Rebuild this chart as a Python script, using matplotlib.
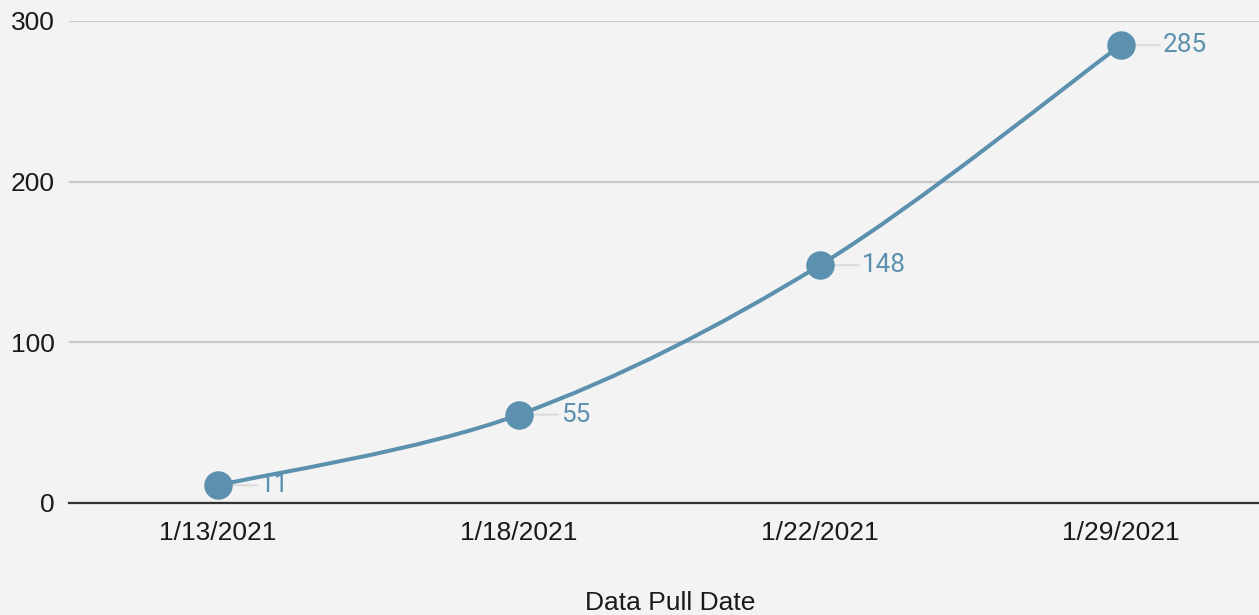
import numpy as np
import matplotlib
matplotlib.use('Agg')
import matplotlib.pyplot as plt
from matplotlib.path import Path
from matplotlib.patches import PathPatch

dates = ['1/13/2021', '1/18/2021', '1/22/2021', '1/29/2021']
values = [11, 55, 148, 285]
y_ticks = [0, 100, 200, 300]

line_col = '#5b91ae'
bg = '#f3f3f3'

fig = plt.figure(figsize=(12.59, 6.15), dpi=100, facecolor=bg)
ax = fig.add_axes([69/1259, 1 - 503/615, 1 - 69/1259, (503 - 21)/615])
ax.set_facecolor(bg)

x = np.arange(len(values))
y = np.array(values, dtype=float)

# smooth curve through the points (catmull-rom -> cubic bezier)
verts = [(x[0], y[0])]
codes = [Path.MOVETO]
for i in range(len(x) - 1):
    p0 = (x[i-1], y[i-1]) if i > 0 else (x[i], y[i])
    p1 = (x[i], y[i])
    p2 = (x[i+1], y[i+1])
    p3 = (x[i+2], y[i+2]) if i + 2 < len(x) else (x[i+1], y[i+1])
    c1 = (p1[0] + (p2[0] - p0[0]) / 6, p1[1] + (p2[1] - p0[1]) / 6)
    c2 = (p2[0] - (p3[0] - p1[0]) / 6, p2[1] - (p3[1] - p1[1]) / 6)
    verts += [c1, c2, p2]
    codes += [Path.CURVE4] * 3
ax.add_patch(PathPatch(Path(verts, codes), facecolor='none', edgecolor=line_col,
                       lw=2.9, zorder=3, clip_on=False))

ax.plot(x, y, 'o', color=line_col, ms=19.5, zorder=4, clip_on=False)

for xi, yi in zip(x, y):
    ax.annotate(str(int(yi)), xy=(xi, yi), xytext=(30, 0), textcoords='offset points',
                va='center', ha='left', color=line_col, fontsize=18.8,
                family=['Roboto', 'DejaVu Sans'], zorder=2,
                arrowprops=dict(arrowstyle='-', color='#dcdcdc', lw=1.5,
                                shrinkA=0, shrinkB=4))

ax.set_xlim(-0.495, 3.459)
ax.set_ylim(0, 300)
ax.set_yticks(y_ticks)
ax.set_xticks(x)
ax.set_xticklabels(dates)
ax.tick_params(length=0, labelsize=19, pad=10)
ax.tick_params(axis='x', pad=13)
for lab in ax.get_xticklabels() + ax.get_yticklabels():
    lab.set_family(['Liberation Sans', 'DejaVu Sans'])
    lab.set_color('#1a1a1a')

ax.grid(axis='y', color='#c8c8c8', lw=1.6)
ax.set_axisbelow(True)
for s in ['top', 'right', 'left']:
    ax.spines[s].set_visible(False)
ax.spines['bottom'].set_color('#333333')
ax.spines['bottom'].set_linewidth(1.6)
ax.spines['bottom'].set_zorder(2.5)

fig.text(670/1259, 1 - 603/615, 'Data Pull Date', ha='center', va='center',
         fontsize=19, color='#1a1a1a', family=['Liberation Sans', 'DejaVu Sans'])

plt.savefig('out.png', dpi=100, facecolor=bg)
